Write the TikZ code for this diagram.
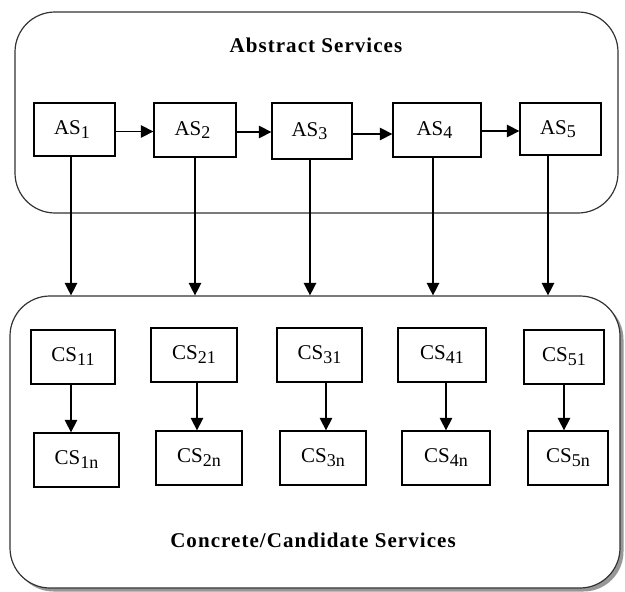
\documentclass[tikz,border=0pt]{standalone}
\usepackage{fontspec}
\setmainfont{Liberation Serif}
\usetikzlibrary{arrows.meta,shadows}
\newcommand\sbx[1]{\raisebox{-0.17em}{\fontsize{18}{18}\selectfont #1}}
\begin{document}
\begin{tikzpicture}[x=1pt,y=-1pt,
  box/.style={draw=black, line width=1.3pt, inner sep=0pt, font=\fontsize{21}{24}\selectfont},
  arr/.style={line width=1.4pt, -{Triangle[length=12.5pt,width=12.5pt]}},
  group/.style={draw=black!80, line width=1.2pt, rounded corners=40pt},
  title/.style={font=\fontsize{21}{24}\selectfont\bfseries\addfontfeatures{LetterSpace=5}}]
\useasboundingbox (0,0) rectangle (625,592);
% group boxes
\node[group, minimum width=603pt, minimum height=201pt, inner sep=0pt] (abox) at (316.5,112.5) {};
\node[group, minimum width=610pt, minimum height=292pt, inner sep=0pt,
  drop shadow={shadow xshift=3.5pt, shadow yshift=-3.5pt, fill=black!45, opacity=0.9}, fill=white] (cbox) at (315,442) {};
\node[title] (atitle) at (316,45) {Abstract Services};
\node[title] (ctitle) at (313,540) {Concrete/Candidate Services};
% abstract services
\node[box, minimum width=81pt, minimum height=53pt] (as1) at (74.5,129.5) {AS\sbx{1}\hspace*{5pt}};
\node[box, minimum width=82pt, minimum height=54pt] (as2) at (195,130) {AS\sbx{2}\hspace*{5pt}};
\node[box, minimum width=80pt, minimum height=56pt] (as3) at (312,131) {AS\sbx{3}\hspace*{5pt}};
\node[box, minimum width=88pt, minimum height=54pt] (as4) at (437,130) {AS\sbx{4}\hspace*{5pt}};
\node[box, minimum width=81pt, minimum height=52pt] (as5) at (560.5,129) {AS\sbx{5}\hspace*{5pt}};
% concrete services
\node[box, minimum width=84pt, minimum height=54pt] (cs11) at (73,357) {\raisebox{4pt}{CS\sbx{11}}};
\node[box, minimum width=86pt, minimum height=54pt] (cs21) at (194,355) {\raisebox{4pt}{CS\sbx{21}}};
\node[box, minimum width=85pt, minimum height=54pt] (cs31) at (319.5,355) {\raisebox{4pt}{CS\sbx{31}}};
\node[box, minimum width=88pt, minimum height=54pt] (cs41) at (442,355) {\raisebox{4pt}{CS\sbx{41}}};
\node[box, minimum width=80pt, minimum height=54pt] (cs51) at (564,357) {\raisebox{4pt}{CS\sbx{51}}};
\node[box, minimum width=85pt, minimum height=54pt] (cs1n) at (76.5,460) {\raisebox{4pt}{CS\sbx{1n}}};
\node[box, minimum width=86pt, minimum height=54pt] (cs2n) at (199,458) {\raisebox{4pt}{CS\sbx{2n}}};
\node[box, minimum width=86pt, minimum height=54pt] (cs3n) at (323,458) {\raisebox{4pt}{CS\sbx{3n}}};
\node[box, minimum width=88pt, minimum height=54pt] (cs4n) at (446,458) {\raisebox{4pt}{CS\sbx{4n}}};
\node[box, minimum width=80pt, minimum height=54pt] (cs5n) at (568,458) {\raisebox{4pt}{CS\sbx{5n}}};
% horizontal arrows
\draw[arr] ([yshift=-2pt]as1.east) -- ([yshift=-2pt]as1.east -| as2.west);
\draw[arr] ([yshift=-2pt]as2.east) -- ([yshift=-2pt]as2.east -| as3.west);
\draw[arr] ([yshift=-3pt]as3.east) -- ([yshift=-3pt]as3.east -| as4.west);
\draw[arr] ([yshift=-1pt]as4.east) -- ([yshift=-1pt]as4.east -| as5.west);
% vertical arrows to concrete box
\draw[arr] ([xshift=-3.5pt]as1.south) -- ([xshift=-3.5pt]as1.south |- cbox.north);
\draw[arr] (as2.south) -- (as2.south |- cbox.north);
\draw[arr] ([xshift=-2pt]as3.south) -- ([xshift=-2pt]as3.south |- cbox.north);
\draw[arr] ([xshift=-4pt]as4.south) -- ([xshift=-4pt]as4.south |- cbox.north);
\draw[arr] ([xshift=-12.5pt]as5.south) -- ([xshift=-12.5pt]as5.south |- cbox.north);
% concrete arrows
\draw[arr] ([xshift=-2pt]cs11.south) -- ([xshift=-2pt]cs11.south |- cs1n.north);
\draw[arr] ([xshift=3pt]cs21.south) -- ([xshift=3pt]cs21.south |- cs2n.north);
\draw[arr] ([xshift=6.5pt]cs31.south) -- ([xshift=6.5pt]cs31.south |- cs3n.north);
\draw[arr] ([xshift=4pt]cs41.south) -- ([xshift=4pt]cs41.south |- cs4n.north);
\draw[arr] (cs51.south) -- (cs51.south |- cs5n.north);
\end{tikzpicture}
\end{document}
